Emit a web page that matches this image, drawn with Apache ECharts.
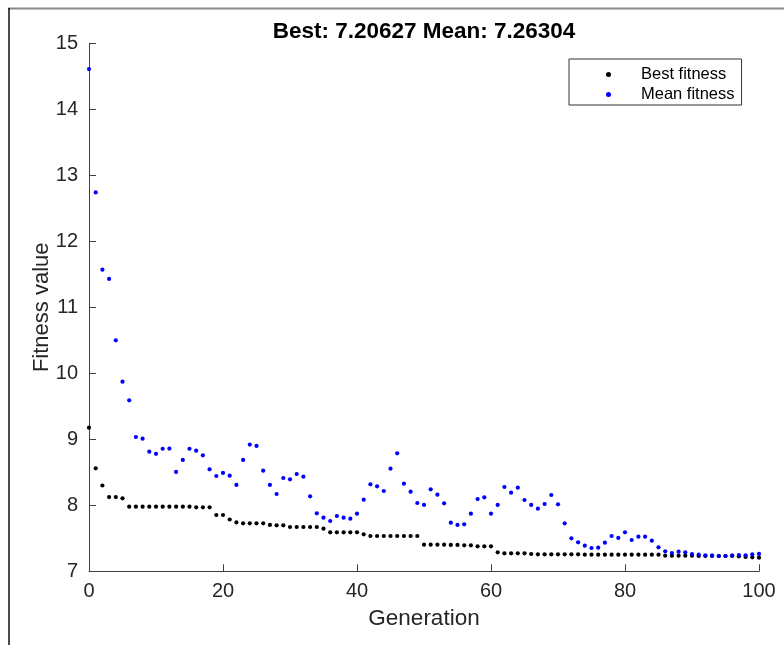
<!DOCTYPE html>
<html>
<head>
<meta charset="utf-8">
<script src="https://cdn.jsdelivr.net/npm/echarts@6/dist/echarts.min.js"></script>
<style>html,body{margin:0;padding:0;background:#fff}#c{width:784px;height:645px}</style>
</head>
<body>
<div id="c"></div>
<script>
var titleText = 'Best: 7.20627 Mean: 7.26304';
var xName = 'Generation';
var yName = 'Fitness value';
var seriesNames = ['Best fitness', 'Mean fitness'];
var generations = [0,1,2,3,4,5,6,7,8,9,10,11,12,13,14,15,16,17,18,19,20,21,22,23,24,25,26,27,28,29,30,31,32,33,34,35,36,37,38,39,40,41,42,43,44,45,46,47,48,49,50,51,52,53,54,55,56,57,58,59,60,61,62,63,64,65,66,67,68,69,70,71,72,73,74,75,76,77,78,79,80,81,82,83,84,85,86,87,88,89,90,91,92,93,94,95,96,97,98,99,100];
var bestFitness = [9.176,8.56,8.30,8.125,8.125,8.106,
  7.979,7.979,7.979,7.979,7.979,7.979,7.979,7.979,7.979,7.979,
  7.97,7.97,7.97,7.853,7.853,7.785,7.740,
  7.727,7.727,7.727,7.727,7.702,7.697,7.697,
  7.671,7.671,7.671,7.671,7.671,7.646,
  7.590,7.590,7.590,7.590,7.590,7.560,
  7.535,7.535,7.535,7.535,7.535,7.535,7.535,7.535,
  7.404,7.404,7.404,7.404,7.399,7.399,7.393,7.393,7.378,7.378,7.378,
  7.287,7.272,7.272,7.272,7.272,7.262,
  7.257,7.257,7.257,7.257,7.257,7.257,7.257,
  7.252,7.252,7.252,7.252,7.252,7.252,7.252,7.252,7.252,7.252,7.252,7.252,
  7.237,7.237,7.237,7.237,7.237,
  7.232,7.232,7.232,7.232,7.232,7.232,
  7.227,7.217,7.212,7.20627];
var meanFitness = [14.61,12.74,11.57,11.43,10.50,9.873,9.59,9.035,9.01,8.812,
  8.78,8.857,8.86,8.505,8.687,8.857,8.827,8.757,8.545,8.444,
  8.49,8.449,8.308,8.687,8.92,8.90,8.525,8.308,8.171,8.414,
  8.393,8.474,8.434,8.136,7.878,7.813,7.762,7.838,7.813,7.798,
  7.873,8.085,8.318,8.288,8.217,8.555,8.787,8.328,8.207,8.035,
  8.005,8.242,8.161,8.030,7.737,7.702,7.712,7.873,8.095,8.121,
  7.873,8.005,8.277,8.192,8.267,8.080,8.005,7.949,8.020,8.156,
  8.015,7.727,7.500,7.439,7.389,7.353,7.358,7.434,7.535,7.505,
  7.590,7.474,7.525,7.525,7.464,7.363,7.303,7.277,7.298,7.287,
  7.262,7.252,7.242,7.242,7.232,7.232,7.242,7.247,7.242,7.257,
  7.26304];
var xTicks = {min: 0, max: 100, interval: 20};
var yTicks = {min: 7, max: 15, interval: 1};

function pairs(xs, ys) { return xs.map(function (x, i) { return [x, ys[i]]; }); }

var font = 'Liberation Sans, Arial, Helvetica, sans-serif';
var axisColor = '#404040';
var chart = echarts.init(document.getElementById('c'), null, {renderer: 'canvas'});
chart.setOption({
  animation: false,
  backgroundColor: '#fff',
  title: {
    text: titleText, left: 424, top: 20, textAlign: 'center', padding: 0,
    textStyle: {fontFamily: font, fontSize: 22.5, fontWeight: 'bold', color: '#000'}
  },
  legend: {
    orient: 'vertical', left: 569, top: 59,
    data: seriesNames, icon: 'circle', itemWidth: 5, itemHeight: 5, itemGap: 3,
    padding: [7, 7, 2, 37], borderColor: '#333', borderWidth: 1, backgroundColor: '#fff',
    textStyle: {fontFamily: font, fontSize: 16.5, color: '#000', lineHeight: 14, padding: [0, 0, 0, 25]}
  },
  grid: {left: 89, right: 25, top: 43.3, bottom: 73.7, containLabel: false},
  xAxis: {
    type: 'value', min: xTicks.min, max: xTicks.max, interval: xTicks.interval,
    name: xName, nameLocation: 'middle', nameGap: 36, nameMoveOverlap: false,
    nameTextStyle: {fontFamily: font, fontSize: 22.5, color: '#262626'},
    axisLine: {show: true, onZero: false, lineStyle: {color: axisColor, width: 1}},
    axisTick: {show: true, inside: true, length: 7, lineStyle: {color: axisColor}},
    axisLabel: {fontFamily: font, fontSize: 20, color: '#262626', margin: 10},
    splitLine: {show: false}
  },
  yAxis: {
    type: 'value', min: yTicks.min, max: yTicks.max, interval: yTicks.interval,
    name: yName, nameLocation: 'middle', nameGap: 36, nameMoveOverlap: false,
    nameTextStyle: {fontFamily: font, fontSize: 22, color: '#262626'},
    axisLine: {show: true, onZero: false, lineStyle: {color: axisColor, width: 1}},
    axisTick: {show: true, inside: true, length: 7, lineStyle: {color: axisColor}},
    axisLabel: {fontFamily: font, fontSize: 20, color: '#262626', margin: 11},
    splitLine: {show: false}
  },
  graphic: [
    {type: 'line', shape: {x1: 8, y1: 8.5, x2: 784, y2: 8.5}, style: {stroke: '#888', lineWidth: 1.8}, silent: true},
    {type: 'line', shape: {x1: 9, y1: 8, x2: 9, y2: 645}, style: {stroke: '#000', lineWidth: 1.4}, silent: true}
  ],
  series: [
    {name: seriesNames[0], type: 'scatter', symbol: 'circle', symbolSize: 4.2,
     itemStyle: {color: '#000', opacity: 1}, data: pairs(generations, bestFitness)},
    {name: seriesNames[1], type: 'scatter', symbol: 'circle', symbolSize: 4.2,
     itemStyle: {color: '#0000ff', opacity: 1}, data: pairs(generations, meanFitness)}
  ]
});
</script>
</body>
</html>
